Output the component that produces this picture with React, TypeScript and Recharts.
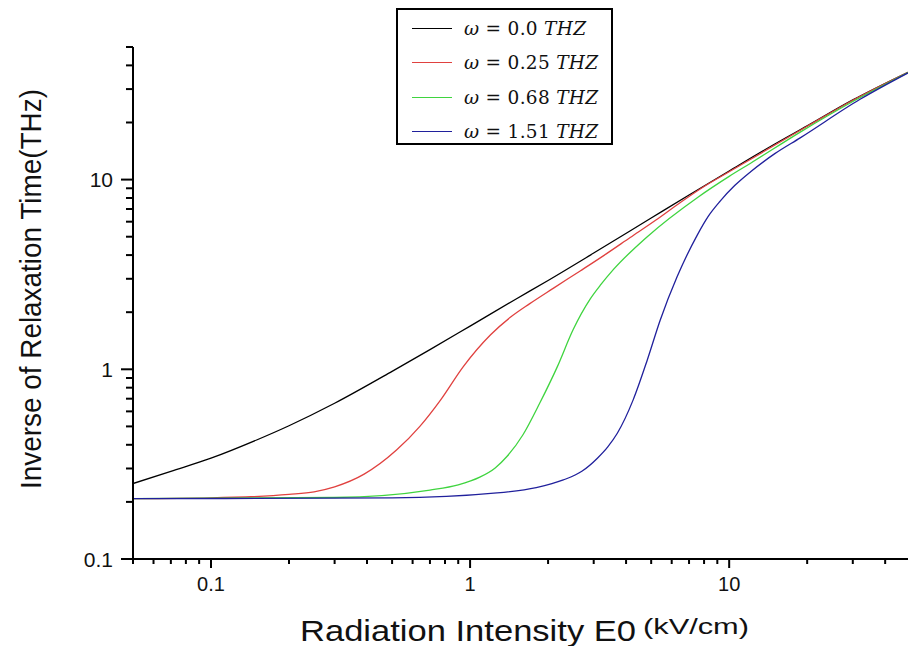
import { Legend, Line, LineChart, XAxis, YAxis } from "recharts";

// frequency labels (THz) used in the legend
const OMEGA = ["0.0", "0.25", "0.68", "1.51"];
const COLORS = ["#000000", "#e0413f", "#3fd43f", "#20209c"];

// radiation intensity E0 (kV/cm) and inverse relaxation time (THz)
const BLACK_E = [0.05, 0.07, 0.1, 0.15, 0.2, 0.3, 0.5, 0.7, 1, 1.5, 2, 3, 5, 7, 10, 15, 20, 30, 49];
const BLACK_T = [0.25, 0.29, 0.34, 0.424, 0.504, 0.662, 0.975, 1.27, 1.69, 2.34, 2.94, 4.1, 6.27, 8.29, 11.1, 15.4, 19.2, 26.3, 36.8];

const RED_E = [0.05, 0.1, 0.2, 0.25, 0.3, 0.39, 0.52, 0.64, 0.77, 0.94, 1.2, 1.43, 1.7, 2.1, 2.66, 3.3, 4.15, 5.2, 6.5, 8, 10, 20, 30, 49];
const RED_T = [0.208, 0.21, 0.219, 0.226, 0.24, 0.28, 0.375, 0.5, 0.69, 1.03, 1.52, 1.88, 2.22, 2.68, 3.3, 4.0, 4.95, 6.1, 7.6, 9.2, 11.0, 19.1, 26.2, 36.8];

const GREEN_E = [0.05, 0.3, 0.7, 0.9, 1.09, 1.25, 1.39, 1.6, 1.86, 2.17, 2.5, 2.91, 3.2, 3.57, 4.83, 7.6, 10, 12.1, 18.8, 30, 49];
const GREEN_T = [0.208, 0.211, 0.231, 0.246, 0.27, 0.302, 0.348, 0.452, 0.666, 1.03, 1.62, 2.35, 2.8, 3.35, 5.0, 8.1, 10.4, 12.2, 17.8, 25.8, 36.7];

const BLUE_E = [0.05, 0.5, 1.27, 1.8, 2.29, 2.7, 3.1, 3.4, 3.7, 4.26, 4.83, 5.42, 6.3, 7.53, 8.3, 9.23, 10.5, 12.1, 15, 18.8, 32, 49];
const BLUE_T = [0.208, 0.21, 0.223, 0.238, 0.261, 0.29, 0.34, 0.39, 0.46, 0.69, 1.12, 1.82, 3.08, 5.1, 6.4, 7.7, 9.3, 11.0, 13.7, 16.6, 26.5, 36.5];

// log axis ticks (minor + major)
const X_TICKS = [
  0.05, 0.06, 0.07, 0.08, 0.09, 0.1, 0.2, 0.3, 0.4, 0.5, 0.6, 0.7, 0.8, 0.9,
  1, 2, 3, 4, 5, 6, 7, 8, 9, 10, 20, 30, 40,
];
const Y_TICKS = [
  0.1, 0.2, 0.3, 0.4, 0.5, 0.6, 0.7, 0.8, 0.9, 1, 2, 3, 4, 5, 6, 7, 8, 9, 10,
  20, 30, 40, 50,
];
const MAJOR = [0.1, 1, 10];

const toRows = (es: number[], ts: number[]) => es.map((e, i) => ({ e, t: ts[i] }));
const SERIES = [
  toRows(BLACK_E, BLACK_T),
  toRows(RED_E, RED_T),
  toRows(GREEN_E, GREEN_T),
  toRows(BLUE_E, BLUE_T),
];

const FONT = "'Liberation Sans', Arial, sans-serif";
const isMajor = (v: number) => MAJOR.some(m => Math.abs(m - v) < 1e-9);

const XTick = ({ x, y, payload }: any) => {
  const major = isMajor(payload.value);
  return (
    <g>
      <line x1={x} x2={x} y1={y} y2={y + (major ? 9 : 5)} stroke="#000" strokeWidth={2} />
      {major && (
        <text x={x} y={y + 32} textAnchor="middle" fontSize={20} fontFamily={FONT} fill="#111">
          {String(payload.value)}
        </text>
      )}
    </g>
  );
};

const YTick = ({ x, y, payload }: any) => {
  const major = isMajor(payload.value);
  return (
    <g>
      <line x1={x} x2={x - (major ? 12 : 7)} y1={y} y2={y} stroke="#000" strokeWidth={2} />
      {major && (
        <text x={x - 20} y={y + 7.5} textAnchor="end" fontSize={21} fontFamily={FONT} fill="#111">
          {String(payload.value)}
        </text>
      )}
    </g>
  );
};

const LegendBox = ({ payload }: any) => (
  <div
    style={{
      border: "2px solid #000",
      boxSizing: "border-box",
      width: 217,
      height: 137,
      background: "#fff",
      paddingTop: 1,
    }}
  >
    {(payload || []).map((item: any, i: number) => (
      <div key={i} style={{ display: "flex", alignItems: "center", height: 34.5 }}>
        <div
          style={{
            width: 40,
            height: 0,
            borderTop: `1.5px solid ${item.color}`,
            marginLeft: 14,
            marginRight: 12,
          }}
        />
        <span
          style={{
            fontFamily: "'DejaVu Serif', serif",
            fontSize: 18.5,
            letterSpacing: 0.3,
            color: "#111",
            whiteSpace: "nowrap",
          }}
        >
          <i>ω</i> = {item.value} <i>THZ</i>
        </span>
      </div>
    ))}
  </div>
);

export default function App() {
  return (
    <div style={{ position: "absolute", left: 0, top: 0, width: 908, height: 646, background: "#fff" }}>
      <LineChart width={908} height={646} margin={{ top: 47, right: 0, bottom: 47, left: 73 }}>
        <XAxis
          dataKey="e"
          type="number"
          scale="log"
          domain={[0.05, 49]}
          allowDataOverflow
          ticks={X_TICKS}
          interval={0}
          tick={<XTick />}
          tickLine={false}
          tickSize={0}
          tickMargin={0}
          height={40}
          axisLine={{ stroke: "#000", strokeWidth: 2 }}
          label={{
            content: () => (
              <g fontFamily={FONT} fill="#111">
                <text x={300} y={641} fontSize={30} textLength={336} lengthAdjust="spacingAndGlyphs">
                  Radiation Intensity E0
                </text>
                <text x={643} y={634} fontSize={22} textLength={106} lengthAdjust="spacingAndGlyphs">
                  (kV/cm)
                </text>
              </g>
            ),
          }}
        />
        <YAxis
          dataKey="t"
          type="number"
          scale="log"
          domain={[0.1, 50]}
          allowDataOverflow
          ticks={Y_TICKS}
          interval={0}
          tick={<YTick />}
          tickLine={false}
          tickSize={0}
          tickMargin={0}
          width={60}
          axisLine={{ stroke: "#000", strokeWidth: 2 }}
          label={{
            content: () => (
              <text
                x={41}
                y={289}
                transform="rotate(-90 41 289)"
                textAnchor="middle"
                fontSize={29}
                textLength={400}
                lengthAdjust="spacingAndGlyphs"
                fontFamily={FONT}
                fill="#111"
              >
                Inverse of Relaxation Time(THz)
              </text>
            ),
          }}
        />
        <Legend
          layout="horizontal"
          verticalAlign="middle"
          align="center"
          content={<LegendBox />}
          wrapperStyle={{ position: "absolute", left: 396, top: 8, width: 217 }}
        />
        {SERIES.map((rows, i) => (
          <Line
            key={OMEGA[i]}
            data={rows}
            dataKey="t"
            name={OMEGA[i]}
            type="monotone"
            stroke={COLORS[i]}
            strokeWidth={1.3}
            dot={false}
            activeDot={false}
            isAnimationActive={false}
          />
        ))}
      </LineChart>
    </div>
  );
}
